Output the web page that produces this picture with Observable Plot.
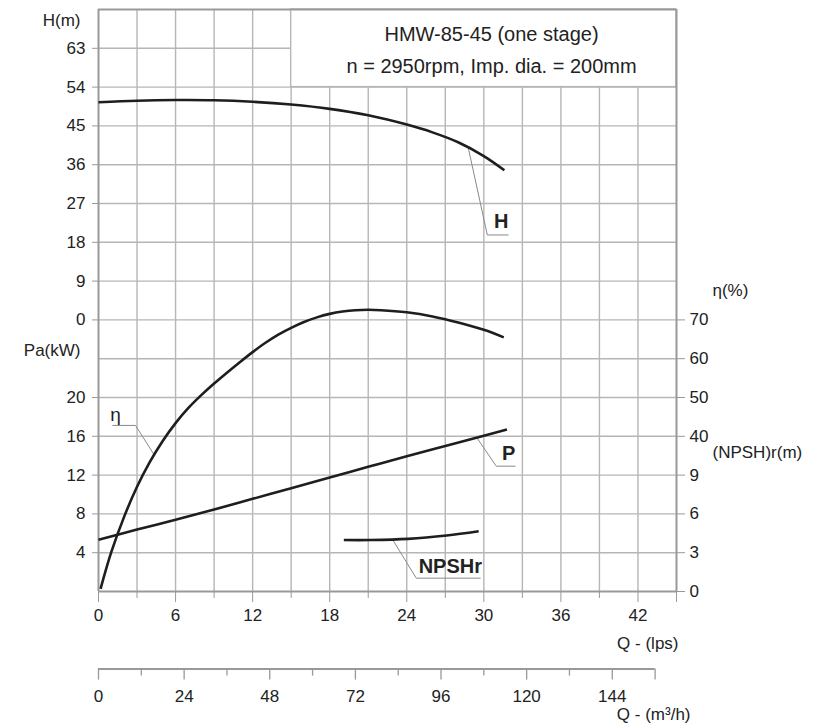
<!DOCTYPE html>
<html><head><meta charset="utf-8">
<script src="https://cdn.jsdelivr.net/npm/d3@7"></script>
<script src="https://cdn.jsdelivr.net/npm/@observablehq/plot@0.6"></script>
<style>
html,body{margin:0;padding:0;background:#fff;}
#chart svg{display:block;}
</style></head><body><div id="chart"></div>
<script>
// ---- series (flow Q in l/s) ----
const qH      = [0, 3, 6, 9, 12, 15, 18, 21, 24, 26, 28, 30, 31.6];
const headM   = [50.5, 50.85, 51.0, 50.95, 50.6, 49.95, 48.95, 47.45, 45.3, 43.5, 41.2, 38.0, 34.7];
const qEta    = [0.16, 1, 2, 3, 4, 5, 6, 7, 8, 9, 10, 11, 12, 13, 14, 15, 16, 17, 18, 19, 20, 21, 22, 24, 26, 28, 30, 31.55];
const etaPct  = [0.7, 10.2, 19.3, 27.0, 33.4, 38.8, 43.4, 47.3, 50.6, 53.6, 56.4, 59.1, 61.7, 64.1, 66.2, 67.95, 69.45, 70.65, 71.55, 72.15, 72.5, 72.6, 72.5, 71.95, 70.9, 69.35, 67.45, 65.5];
const qP      = [0, 3, 6, 9, 12, 15, 18, 21, 24, 27, 30, 31.8];
const powerKW = [5.33, 6.38, 7.40, 8.45, 9.55, 10.65, 11.75, 12.85, 13.95, 15.0, 16.05, 16.7];
const qNpsh   = [19.1, 21.2, 24.1, 27.1, 29.6];
const npshM   = [3.98, 3.98, 4.07, 4.33, 4.66];

// ---- tick labels ----
const qMajor    = [0, 6, 12, 18, 24, 30, 36, 42];
const qMinor    = [3, 9, 15, 21, 27, 33, 39];
const qEnd      = [45];
const gridQ     = [3, 6, 9, 12, 15, 18, 21, 24, 27, 30, 33, 36, 39, 42];
const gridRows  = [1, 2, 3, 4, 5, 6, 7, 8, 9, 10, 11, 12, 13, 14];
const hTicks    = [0, 9, 18, 27, 36, 45, 54, 63];
const paTicks   = [4, 8, 12, 16, 20];
const etaTicks  = [40, 50, 60, 70];
const npshTicks = [0, 3, 6, 9];
const m3Labels  = [0, 24, 48, 72, 96, 120, 144];
const m3Minor   = [12, 36, 60, 84, 108, 132];
const m3End     = [156];

// ---- annotations (native units of each series) ----
const labelH    = [{q: 31.35, v: 22.7, t: "H"}];
const leaderH   = [{q: 28.79, v: 39.9}, {q: 30.27, v: 19.7}, {q: 31.9, v: 19.7}];
const labelP    = [{q: 31.94, v: 14.2, t: "P"}];
const leaderP   = [{q: 29.46, v: 15.85}, {q: 30.97, v: 12.92}, {q: 32.44, v: 12.92}];
const labelN    = [{q: 27.39, v: 1.89, t: "NPSHr"}];
const leaderN   = [{q: 22.93, v: 3.96}, {q: 24.74, v: 1.03}, {q: 29.72, v: 1.03}];
const labelEta  = [{q: 1.32, v: 45.4, t: "η"}];
const leaderEta = [{q: 1.11, v: 42.8}, {q: 2.88, v: 42.8}, {q: 4.30, v: 35.4}];

// grid units: one grid row per unit
const uH = h => 7 + h / 9, uP = p => p / 4, uE = e => e / 10, uN = n => n / 3;
const lps = m3h => m3h / 3.6;

const H = qH.map((q, i) => ({q, u: uH(headM[i])}));
const E = qEta.map((q, i) => ({q, u: uE(etaPct[i])}));
const P = qP.map((q, i) => ({q, u: uP(powerKW[i])}));
const N = qNpsh.map((q, i) => ({q, u: uN(npshM[i])}));

const fmt = (ticks, f) => u => {
  const i = ticks.findIndex(t => Math.abs(f(t) - u) < 1e-6);
  return i < 0 ? "" : String(ticks[i]);
};

const FONT = "Liberation Sans, Arial, Helvetica, sans-serif";
const GRID = "#b6b6b6", AX = "#999", INK = "#1e1e1e", TXT = "#222";

const leftU  = [...hTicks.map(uH), ...paTicks.map(uP)];
const leftF  = u => (u >= 7 ? fmt(hTicks, uH)(u) : fmt(paTicks, uP)(u));
const rightU = [...etaTicks.map(uE), ...npshTicks.map(uN)];
const rightF = u => (u >= 4 ? fmt(etaTicks, uE)(u) : fmt(npshTicks, uN)(u));
const curve = {curve: "catmull-rom", stroke: INK, strokeWidth: 2.6, strokeLinecap: "butt"};

const chart = Plot.plot({
  width: 824, height: 725,
  marginLeft: 98, marginRight: 148, marginTop: 9, marginBottom: 134,
  x: {domain: [0, 45]},
  y: {domain: [0, 15]},
  style: {fontFamily: FONT, background: "#fff", overflow: "visible"},
  marks: [
    // grid
    Plot.ruleX(gridQ, {y1: 0, y2: 15, stroke: GRID, strokeWidth: 1.4}),
    Plot.ruleY(gridRows, {x1: 0, x2: 45, stroke: GRID, strokeWidth: 1.4}),
    // title box
    Plot.rect([{x1: 15, x2: 45, y1: 13, y2: 15}], {x1: "x1", x2: "x2", y1: "y1", y2: "y2", fill: "#fff", stroke: GRID, strokeWidth: 1.4}),
    Plot.text(["HMW-85-45 (one stage)"], {x: 30.6, y: 14.36, text: d => d, fontSize: 20, fill: TXT}),
    Plot.text(["n = 2950rpm, Imp. dia. = 200mm"], {x: 30.6, y: 13.53, text: d => d, fontSize: 20, fill: TXT}),
    // frame
    Plot.ruleY([0, 15], {x1: 0, x2: 45, stroke: AX, strokeWidth: 2}),
    Plot.ruleX([0, 45], {y1: 0, y2: 15, stroke: AX, strokeWidth: 2}),
    // axes
    Plot.axisY(leftU, {anchor: "left", tickSize: 6, tickPadding: 7, tickFormat: leftF, stroke: AX, fill: TXT, fontSize: 17, label: null}),
    Plot.axisY(rightU, {anchor: "right", tickSize: 8, tickPadding: 5, tickFormat: rightF, stroke: AX, fill: TXT, fontSize: 17, label: null}),
    Plot.axisX(qMajor, {anchor: "bottom", tickSize: 11, tickPadding: 6, tickFormat: d => String(d), stroke: AX, fill: TXT, fontSize: 17, label: null}),
    Plot.axisX(qMinor, {anchor: "bottom", tickSize: 7, tickFormat: () => "", stroke: AX, label: null}),
    Plot.axisX(qEnd, {anchor: "bottom", tickSize: 11, tickFormat: () => "", stroke: AX, label: null}),
    // second flow axis (m3/h)
    Plot.ruleY([-2], {x1: 0, x2: lps(156), stroke: AX, strokeWidth: 2}),
    Plot.ruleX([...m3Labels, ...m3End], {x: lps, y1: -2, y2: -2 - 11 / 38.8, stroke: AX, strokeWidth: 1.3}),
    Plot.ruleX(m3Minor, {x: lps, y1: -2, y2: -2 - 7 / 38.8, stroke: AX, strokeWidth: 1.3}),
    Plot.text(m3Labels, {x: lps, y: -2, dy: 27, text: d => String(d), fontSize: 17, fill: TXT}),
    // axis titles
    Plot.text(["H(m)"], {x: 0, y: 14.72, dx: -18, textAnchor: "end", text: d => d, fontSize: 17, fill: TXT}),
    Plot.text(["Pa(kW)"], {x: 0, y: 6.21, dx: -18, textAnchor: "end", text: d => d, fontSize: 17, fill: TXT}),
    Plot.text(["η(%)"], {x: 45, y: 7.76, dx: 36, textAnchor: "start", text: d => d, fontSize: 17, fill: TXT}),
    Plot.text(["(NPSH)r(m)"], {x: 45, y: 3.58, dx: 36, textAnchor: "start", text: d => d, fontSize: 17, fill: TXT}),
    Plot.text(["Q - (lps)"], {x: 45, y: -1.35, dx: 2, textAnchor: "end", text: d => d, fontSize: 17, fill: TXT}),
    Plot.text(["Q - (m³/h)"], {x: 45, y: -3.18, dx: 14, textAnchor: "end", text: d => d, fontSize: 17, fill: TXT}),
    // leaders
    Plot.line(leaderH, {x: "q", y: d => uH(d.v), stroke: "#8a8a8a", strokeWidth: 1}),
    Plot.line(leaderP, {x: "q", y: d => uP(d.v), stroke: "#8a8a8a", strokeWidth: 1}),
    Plot.line(leaderN, {x: "q", y: d => uN(d.v), stroke: "#8a8a8a", strokeWidth: 1}),
    Plot.line(leaderEta, {x: "q", y: d => uE(d.v), stroke: "#8a8a8a", strokeWidth: 1}),
    // curves
    Plot.line(H, {x: "q", y: "u", ...curve}),
    Plot.line(E, {x: "q", y: "u", ...curve}),
    Plot.line(P, {x: "q", y: "u", ...curve}),
    Plot.line(N, {x: "q", y: "u", ...curve}),
    // curve labels
    Plot.text(labelH, {x: "q", y: d => uH(d.v), text: "t", fontSize: 20, fontWeight: "bold", fill: TXT}),
    Plot.text(labelP, {x: "q", y: d => uP(d.v), text: "t", fontSize: 20, fontWeight: "bold", fill: TXT}),
    Plot.text(labelN, {x: "q", y: d => uN(d.v), text: "t", fontSize: 20, fontWeight: "bold", fill: TXT}),
    Plot.text(labelEta, {x: "q", y: d => uE(d.v), text: "t", fontSize: 19, fill: TXT})
  ]
});
document.getElementById("chart").appendChild(chart);
</script>
</body></html>
